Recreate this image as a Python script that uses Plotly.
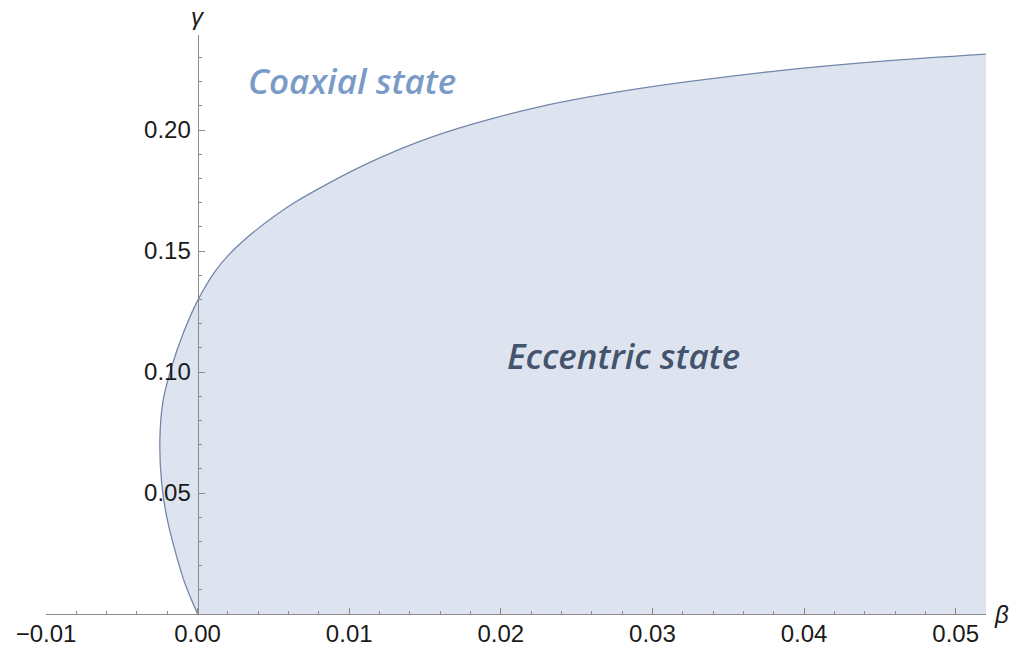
import plotly.graph_objects as go

# Boundary curve (beta, gamma)
beta = [0.0, -0.00084, -0.0015, -0.00204, -0.00237, -0.00249, -0.00227, -0.00171,
        -0.00095, 0.0, 0.00114, 0.00202, 0.00334, 0.0051, 0.0064, 0.0086, 0.0108,
        0.0130, 0.0160, 0.0193, 0.0226, 0.0259, 0.0292, 0.0322, 0.0384, 0.0450, 0.0520]
gamma = [0.0, 0.0127, 0.0264, 0.0402, 0.054, 0.0719, 0.0884, 0.1022,
         0.116, 0.1295, 0.1415, 0.1482, 0.1560, 0.1646, 0.1701, 0.1779, 0.1850,
         0.1912, 0.1983, 0.2045, 0.2097, 0.2138, 0.2172, 0.2199, 0.2246, 0.2284, 0.2314]

x_range = [-0.01, 0.052]
y_range = [0.0, 0.2393]
x_ticks = [-0.01, 0.0, 0.01, 0.02, 0.03, 0.04, 0.05]
x_ticklabels = ["\u22120.01", "0.00", "0.01", "0.02", "0.03", "0.04", "0.05"]
y_ticks = [0.05, 0.10, 0.15, 0.20]
y_ticklabels = ["0.05", "0.10", "0.15", "0.20"]

region_labels = ["Coaxial state", "Eccentric state"]
region_beta = [0.0102, 0.0281]
region_gamma = [0.2207, 0.107]
region_colors = ["#7b9bc7", "#45546d"]

fig = go.Figure()
fig.add_trace(go.Scatter(x=beta, y=gamma, mode="lines",
                         line=dict(color="rgba(0,0,0,0)", width=0, shape="spline", smoothing=1.0),
                         hoverinfo="skip", showlegend=False))
fig.add_trace(go.Scatter(x=[beta[-1], x_range[1], x_range[1], beta[0]],
                         y=[gamma[-1], gamma[-1], 0.0, gamma[0]], mode="lines",
                         fill="tonext", fillcolor="rgb(222,228,239)",
                         line=dict(width=0), hoverinfo="skip", showlegend=False))
fig.add_trace(go.Scatter(x=beta, y=gamma, mode="lines",
                         line=dict(color="rgb(115,135,172)", width=1.3,
                                   shape="spline", smoothing=1.0),
                         showlegend=False))

tickfont = dict(family="Liberation Sans, Arial", size=24, color="#1a1a1a")
axis_pos = (0 - x_range[0]) / (x_range[1] - x_range[0])

fig.update_layout(
    width=1012, height=646,
    margin=dict(l=46, r=26, t=35, b=32),
    paper_bgcolor="white", plot_bgcolor="white",
    xaxis=dict(range=x_range, tickvals=x_ticks, ticktext=x_ticklabels, automargin=False,
               showgrid=False, zeroline=False, showline=True, linecolor="#8a8a8a",
               linewidth=1, ticks="inside", ticklen=6, tickcolor="#8a8a8a",
               tickfont=tickfont, ticklabelstandoff=-2,
               minor=dict(dtick=0.002, tick0=0, ticks="inside", ticklen=3.5,
                          tickcolor="#8a8a8a", showgrid=False)),
    yaxis=dict(range=y_range, tickvals=y_ticks, ticktext=y_ticklabels, automargin=False,
               anchor="free", position=axis_pos,
               showgrid=False, zeroline=False, showline=True, linecolor="#8a8a8a",
               linewidth=1, ticks="inside", ticklen=6, tickcolor="#8a8a8a",
               tickfont=tickfont, ticklabelstandoff=2,
               minor=dict(dtick=0.01, tick0=0, ticks="inside", ticklen=3.5,
                          tickcolor="#8a8a8a", showgrid=False)),
)

for lab, bx, gy, col in zip(region_labels, region_beta, region_gamma, region_colors):
    fig.add_annotation(x=bx, y=gy, xref="x", yref="y", text=lab, showarrow=False,
                       font=dict(family="Open Sans", size=35, color=col, weight=600,
                                 style="italic"),
                       xanchor="center", yanchor="middle")

fig.add_annotation(x=0, y=y_range[1], xref="x", yref="y", text="\u03b3", showarrow=False,
                   font=dict(family="Liberation Sans, Arial", size=24, color="#1a1a1a",
                             style="italic"),
                   xanchor="center", yanchor="bottom", yshift=3)
fig.add_annotation(x=x_range[1], y=0, xref="x", yref="y", text="\u03b2", showarrow=False,
                   font=dict(family="Liberation Sans, Arial", size=24, color="#1a1a1a",
                             style="italic"),
                   xanchor="left", yanchor="middle", xshift=6, yshift=0)

fig.write_html("out.html")
